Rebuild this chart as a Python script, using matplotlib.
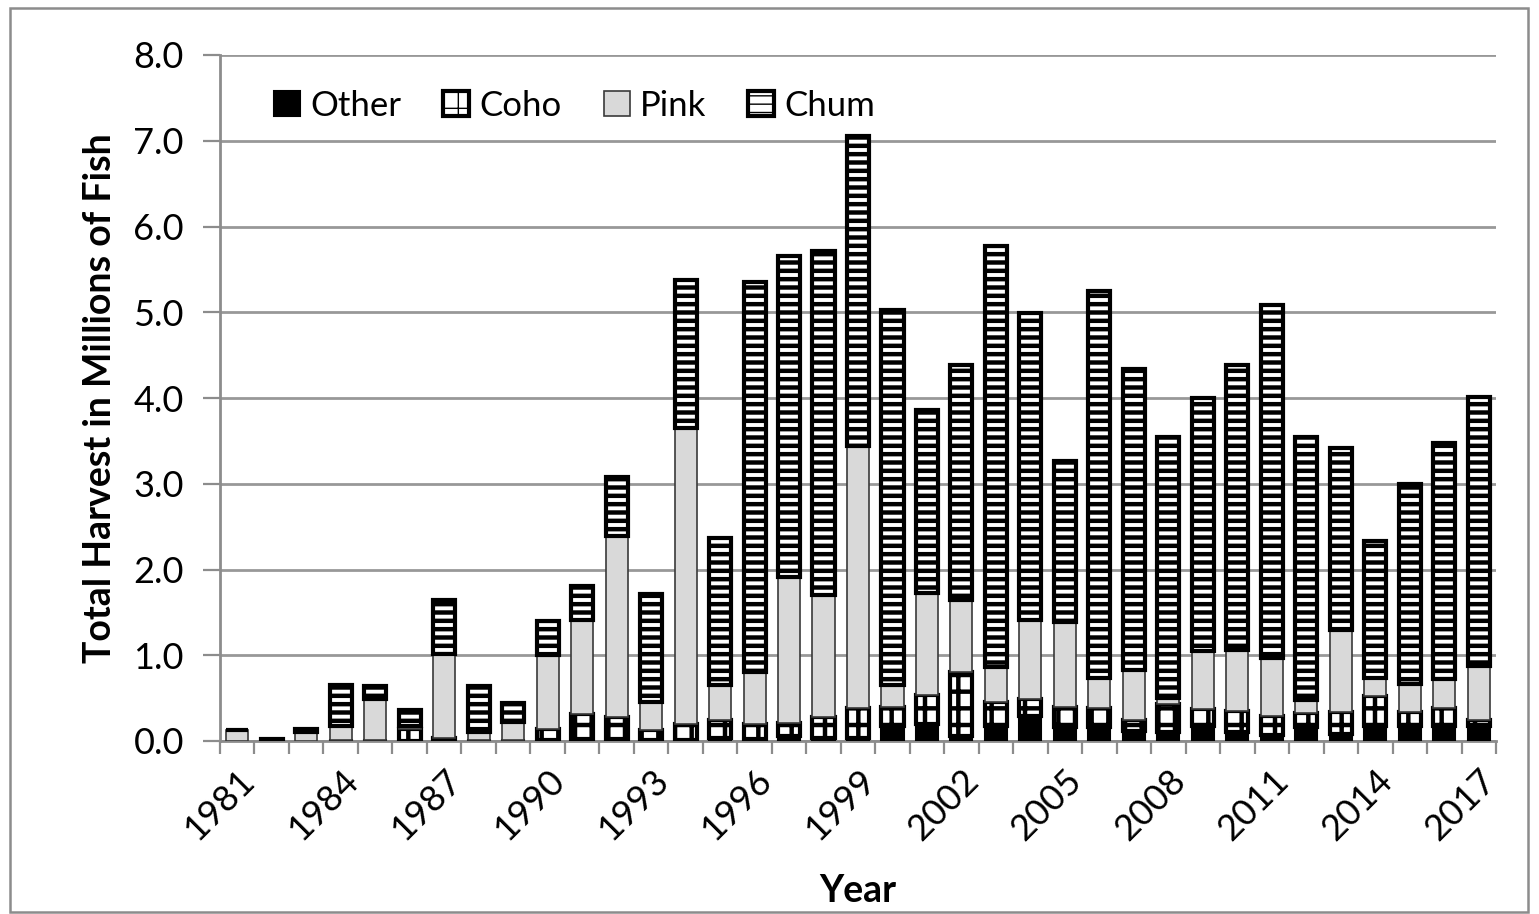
import matplotlib
matplotlib.use("Agg")
import matplotlib.pyplot as plt
import numpy as np
from matplotlib.patches import Rectangle

years = list(range(1981, 2018))
other = [0.00, 0.01, 0.00, 0.01, 0.01, 0.00, 0.01, 0.01, 0.01, 0.01,
         0.02, 0.02, 0.01, 0.01, 0.03, 0.02, 0.06, 0.03, 0.03, 0.17,
         0.20, 0.06, 0.17, 0.29, 0.16, 0.16, 0.12, 0.11, 0.17, 0.10,
         0.07, 0.16, 0.08, 0.17, 0.17, 0.17, 0.17]
coho = [0.00, 0.00, 0.00, 0.00, 0.00, 0.14, 0.02, 0.00, 0.00, 0.13,
        0.29, 0.26, 0.12, 0.19, 0.22, 0.18, 0.15, 0.25, 0.35, 0.23,
        0.34, 0.75, 0.28, 0.20, 0.24, 0.22, 0.12, 0.32, 0.20, 0.25,
        0.22, 0.17, 0.26, 0.35, 0.17, 0.22, 0.07]
pink = [0.13, 0.00, 0.11, 0.17, 0.48, 0.04, 0.99, 0.10, 0.21, 0.86,
        1.10, 2.11, 0.32, 3.45, 0.40, 0.60, 1.70, 1.42, 3.06, 0.25,
        1.19, 0.84, 0.41, 0.92, 0.99, 0.36, 0.59, 0.07, 0.68, 0.71,
        0.68, 0.15, 0.96, 0.22, 0.32, 0.33, 0.63]
chum = [0.00, 0.01, 0.03, 0.47, 0.15, 0.18, 0.62, 0.53, 0.22, 0.40,
        0.40, 0.69, 1.27, 1.73, 1.72, 4.55, 3.75, 4.01, 3.61, 4.38,
        2.13, 2.73, 4.91, 3.58, 1.88, 4.51, 3.51, 3.05, 2.95, 3.32,
        4.11, 3.07, 2.12, 1.59, 2.34, 2.75, 3.14]

series_names = ["Other", "Coho", "Pink", "Chum"]
y_ticks = [0, 1, 2, 3, 4, 5, 6, 7, 8]
x_label_years = list(range(1981, 2018, 3))

FONT = "Lato"
plt.rcParams["font.family"] = [FONT, "DejaVu Sans"]

fig = plt.figure(figsize=(15.39, 9.14), dpi=100)
ax = fig.add_axes([220 / 1539, 1 - 741 / 914, (1496 - 220) / 1539, (741 - 55) / 914])

# figure border
fig.patches.append(Rectangle((10 / 1539, 2 / 914), 1518 / 1539, 904 / 914,
                             transform=fig.transFigure, fill=False,
                             edgecolor="#8c8c8c", linewidth=1.8, zorder=0))

x = np.arange(len(years))
w = 0.64
o = np.array(other)
c = np.array(coho)
p = np.array(pink)
h = np.array(chum)

with plt.rc_context({"hatch.linewidth": 3.2, "hatch.color": "black"}):
    b_other = ax.bar(x, o, w, color="black", edgecolor="black", linewidth=1.5,
                     label="Other", zorder=3)
    b_coho = ax.bar(x, c, w, bottom=o, color="white", edgecolor="black",
                    linewidth=3, hatch="+", label="Coho", zorder=3)
    b_pink = ax.bar(x, p, w, bottom=o + c, color="#d9d9d9", edgecolor="#3a3a3a",
                    linewidth=1.2, label="Pink", zorder=3)
    b_chum = ax.bar(x, h, w, bottom=o + c + p, color="white", edgecolor="black",
                    linewidth=3, hatch="--", label="Chum", zorder=3)

ax.set_xlim(-0.5, len(years) - 0.5)
ax.set_ylim(0, 8)
ax.set_yticks(y_ticks)
ax.set_yticklabels([f"{v:.1f}" for v in y_ticks], fontsize=26)
ax.yaxis.grid(True, color="#989898", linewidth=2.0, zorder=0)
ax.set_axisbelow(True)

ax.set_xticks([years.index(yv) for yv in x_label_years])
ax.set_xticklabels([str(yv) for yv in x_label_years], rotation=45, ha="right",
                   rotation_mode="anchor", fontsize=26)
ax.set_xticks(np.arange(-0.5, len(years), 1.0), minor=True)
ax.tick_params(axis="x", which="major", length=0, pad=16)
ax.tick_params(axis="x", which="minor", length=9, width=1.6, color="#8c8c8c")
ax.tick_params(axis="y", length=12, width=1.6, color="#8c8c8c", pad=14)

for s in ["top", "right"]:
    ax.spines[s].set_visible(False)
for s in ["left", "bottom"]:
    ax.spines[s].set_color("#8c8c8c")
    ax.spines[s].set_linewidth(2.0)

ax.set_ylabel("Total Harvest in Millions of Fish", fontsize=27, fontweight="bold", labelpad=12)
ax.set_xlabel("Year", fontsize=27, fontweight="bold", labelpad=20)

leg = ax.legend(handles=[b_other, b_coho, b_pink, b_chum], labels=series_names,
                loc="upper left", bbox_to_anchor=(0.018, 0.995), ncol=4, frameon=False,
                fontsize=25, handlelength=0.75, handleheight=0.75, handletextpad=0.3,
                columnspacing=1.2)

fig.savefig("out.png", dpi=100)
